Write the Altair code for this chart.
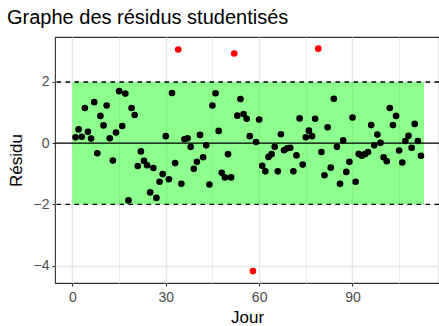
import altair as alt
import pandas as pd

days = list(range(1, 113))
residus = [
    0.19, 0.45, 0.21, 1.15, 0.37, 0.15, 1.34, -0.33, 0.89, 0.58,
    1.23, 0.16, -0.57, 0.35, 1.70, 0.56, 1.62, -1.87, 1.15, 0.92,
    -0.75, -0.27, -0.58, -0.72, -1.61, -0.81, -1.79, -1.26, -1.01, 0.23,
    -1.18, 1.64, -0.65, 3.06, -1.33, 0.13, 0.16, -0.12, -0.84, -0.61,
    0.27, -0.46, -0.07, -1.35, 1.23, 1.63, 0.40, -0.97, -1.12, -0.36,
    -1.12, 2.93, 0.90, 1.44, 0.95, 0.80, 0.23, -4.18, 0.04, 0.77,
    -0.74, -0.92, -0.45, -0.36, -0.12, -0.92, 0.29, -0.23, -0.17, -0.15,
    -0.92, -0.40, 0.81, -0.70, 0.19, 0.41, 0.23, 0.80, 3.09, -0.29,
    -1.05, 0.52, -0.80, 1.45, -0.12, -1.33, 0.09, -0.94, -0.61, 0.84,
    -1.26, -0.35, -0.41, -0.36, -0.29, 0.59, -0.07, 0.28, 0.01, -0.46,
    -0.59, 1.15, 0.59, 0.89, -0.24, -0.63, 0.07, 0.24, -0.15, 0.63,
    0.07, -0.41,
]
band_x = [0, 113]
band_y = [-2, 2]
seuils = [-2, 2]
zero_line = [0]
x_ticks = [0, 15, 30, 45, 60, 75, 90, 105]
y_ticks = [-4, -3, -2, -1, 0, 1, 2, 3]

df = pd.DataFrame({"Jour": days, "Residu": residus})
band_df = pd.DataFrame({"x1": [band_x[0]], "x2": [band_x[1]],
                        "y1": [band_y[0]], "y2": [band_y[1]]})
seuil_df = pd.DataFrame({"y": seuils})
zero_df = pd.DataFrame({"y": zero_line})

FONT = "Liberation Sans"
xscale = alt.Scale(domain=[-5.6, 117.8], nice=False, zero=False)
yscale = alt.Scale(domain=[-4.57, 3.47], nice=False, zero=False)

common = dict(
    domain=False, tickColor="#333333", tickSize=3, tickWidth=1.1,
    labelColor="#4D4D4D", labelFontSize=14, labelFont=FONT,
    titleFont=FONT, titleFontSize=17, titleFontWeight="normal", titleColor="black",
    gridColor="#E6E6E6",
)

x_axis = alt.Axis(
    title="Jour", values=x_ticks,
    labelExpr="datum.value % 30 === 0 ? datum.label : ''",
    tickOpacity={"condition": {"test": "datum.value % 30 === 0", "value": 1}, "value": 0},
    gridWidth={"condition": {"test": "datum.value % 30 === 0", "value": 1.6}, "value": 0.8},
    titleY=39, titleBaseline="alphabetic", labelPadding=4, **common,
)
y_axis = alt.Axis(
    title="Résidu", values=y_ticks,
    labelExpr="datum.value % 2 === 0 ? datum.label : ''",
    tickOpacity={"condition": {"test": "datum.value % 2 === 0", "value": 1}, "value": 0},
    gridWidth={"condition": {"test": "datum.value % 2 === 0", "value": 1.6}, "value": 0.8},
    titleX=-34, titleY=123, titleBaseline="alphabetic", titleAngle=270, labelPadding=3,
    **common,
)

band = alt.Chart(band_df).mark_rect(color="#00FF00", opacity=0.45).encode(
    x=alt.X("x1:Q", scale=xscale, axis=x_axis),
    x2="x2:Q",
    y=alt.Y("y1:Q", scale=yscale, axis=y_axis),
    y2="y2:Q",
)

dashed = alt.Chart(seuil_df).mark_rule(color="black", strokeWidth=1.3, strokeDash=[4.5, 4.5]).encode(
    y=alt.Y("y:Q", scale=yscale)
)
zero = alt.Chart(zero_df).mark_rule(color="black", strokeWidth=1.3).encode(
    y=alt.Y("y:Q", scale=yscale)
)

points = alt.Chart(df).mark_circle(size=44, opacity=1).encode(
    x=alt.X("Jour:Q", scale=xscale),
    y=alt.Y("Residu:Q", scale=yscale),
    color=alt.condition("abs(datum.Residu) > 2", alt.value("#FF0000"), alt.value("black")),
)

chart = alt.layer(band, dashed, zero, points).properties(
    width=384, height=246,
    background="white",
    title=alt.TitleParams("Graphe des résidus studentisés", anchor="start", font=FONT,
                          fontSize=20, fontWeight="normal", color="black",
                          baseline="alphabetic", offset=13, dy=20),
    autosize=alt.AutoSizeParams(type="none"),
    padding={"left": 55, "top": 37, "right": 0, "bottom": 43},
).configure_view(
    stroke="#333333", strokeWidth=1.1,
)

chart.save("out.html", embed_options={"renderer": "svg", "actions": False})
